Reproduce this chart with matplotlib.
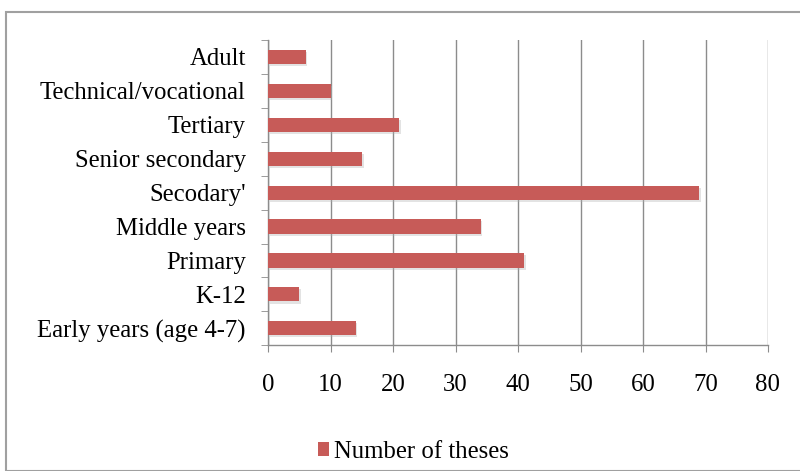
import matplotlib.pyplot as plt
from matplotlib.patches import Rectangle
import numpy as np

plt.rcParams['font.family'] = ['Liberation Serif', 'DejaVu Serif']

levels = ['Early years (age 4-7)', 'K-12', 'Primary', 'Middle years',
          "Secodary'", 'Senior secondary', 'Tertiary',
          'Technical/vocational', 'Adult']
theses = [14, 5, 41, 34, 69, 15, 21, 10, 6]
xticks = [0, 10, 20, 30, 40, 50, 60, 70, 80]

bar_color = '#c75b58'
axis_color = '#8c8c8c'

fig = plt.figure(figsize=(8, 4.71), dpi=100)
fig.patches.append(Rectangle((0.007, 0.0), 1.2, 0.975, transform=fig.transFigure,
                             fill=False, edgecolor='#a0a0a0', linewidth=1.5))

ax = fig.add_axes([0.335, 0.267, 0.625, 0.648])
y = np.arange(len(levels))

# soft drop shadow beneath each bar
ax.barh(y - 0.06, theses, height=0.42, left=0.3, color='#b0b0b0', alpha=0.35,
        zorder=2, linewidth=0)
ax.barh(y, theses, height=0.42, color=bar_color, zorder=3, label='Number of theses')

ax.set_xlim(0, 80)
ax.set_ylim(-0.5, len(levels) - 0.5)
ax.set_xticks(xticks)
ax.set_yticks(y)
ax.set_yticklabels(levels)
ax.set_yticks(np.arange(len(levels) + 1) - 0.5, minor=True)

ax.grid(axis='x', color=axis_color, linewidth=1.0, zorder=0)
ax.set_axisbelow(True)

for side in ['top', 'right']:
    ax.spines[side].set_visible(False)
for side in ['left', 'bottom']:
    ax.spines[side].set_color(axis_color)
    ax.spines[side].set_linewidth(1.0)

ax.tick_params(axis='y', which='major', length=0, labelsize=17.8, pad=16)
ax.tick_params(axis='y', which='minor', length=5, color=axis_color)
ax.tick_params(axis='x', length=5, color=axis_color, labelsize=17.8, pad=16)

fig.legend(loc='lower left', bbox_to_anchor=(0.37, -0.03), frameon=False,
           fontsize=17.8, handlelength=0.45, handleheight=0.45, handletextpad=0.2)

fig.savefig('out.png', dpi=100)
